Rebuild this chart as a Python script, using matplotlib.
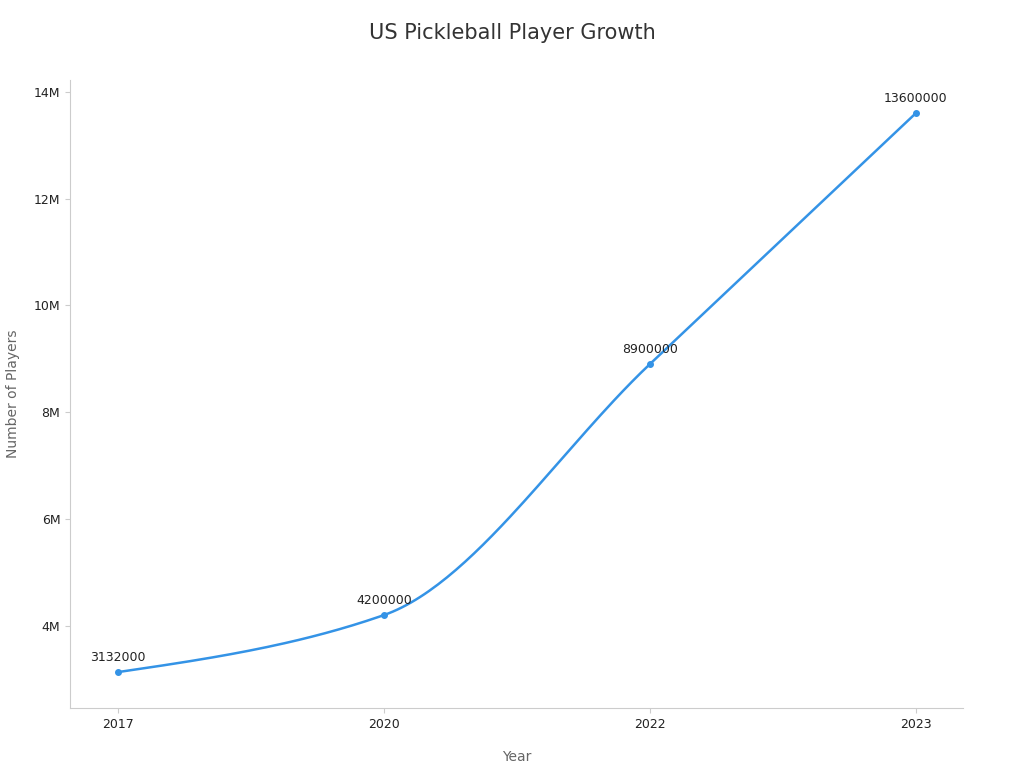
import numpy as np
import matplotlib
matplotlib.use("Agg")
import matplotlib.pyplot as plt
from matplotlib.ticker import FuncFormatter

years = ["2017", "2020", "2022", "2023"]
players = [3132000, 4200000, 8900000, 13600000]

def monotone(x, y, n=60):
    x = np.asarray(x, float); y = np.asarray(y, float)
    h = np.diff(x); d = np.diff(y) / h
    m = np.zeros_like(y)
    m[0] = d[0]; m[-1] = d[-1]
    for i in range(1, len(y) - 1):
        if d[i-1] * d[i] <= 0:
            m[i] = 0
        else:
            m[i] = 3 * (h[i-1] + h[i]) / ((2*h[i] + h[i-1]) / d[i-1] + (h[i] + 2*h[i-1]) / d[i])
    # d3 style endpoints
    m[0] = (3 * d[0] - m[1]) / 2
    m[-1] = (3 * d[-1] - m[-2]) / 2
    xs, ys = [], []
    for i in range(len(h)):
        t = np.linspace(0, 1, n)
        h00 = 2*t**3 - 3*t**2 + 1; h10 = t**3 - 2*t**2 + t
        h01 = -2*t**3 + 3*t**2; h11 = t**3 - t**2
        xs.append(x[i] + t*h[i])
        ys.append(h00*y[i] + h10*h[i]*m[i] + h01*y[i+1] + h11*h[i]*m[i+1])
    return np.concatenate(xs), np.concatenate(ys)

fig = plt.figure(figsize=(10.24, 7.68), dpi=100)
ax = fig.add_axes([70/1024, 60/768, 893/1024, 628/768])
xi = np.arange(len(years))
sx, sy = monotone(xi, players)
color = "#3493e6"
ax.plot(sx, sy, color=color, lw=1.8)
ax.plot(xi, players, "o", color=color, ms=4)
for x, v in zip(xi, players):
    ax.annotate(str(v), (x, v), xytext=(0, 6), textcoords="offset points",
                ha="center", va="bottom", fontsize=9, color="#222222")

ax.set_xlim(-0.18, 3.177)
ax.set_ylim(2.46e6, 14.22e6)
ax.set_xticks(xi)
ax.set_xticklabels(years)
ax.set_yticks([4e6, 6e6, 8e6, 10e6, 12e6, 14e6])
ax.yaxis.set_major_formatter(FuncFormatter(lambda v, p: f"{int(v/1e6)}M"))
for s in ["top", "right"]:
    ax.spines[s].set_visible(False)
for s in ["left", "bottom"]:
    ax.spines[s].set_color("#cccccc")
ax.tick_params(colors="#cccccc", labelcolor="#222222", labelsize=9)
ax.set_xlabel("Year", fontsize=10, color="#666666", labelpad=14)
ax.set_ylabel("Number of Players", fontsize=10, color="#666666", labelpad=10)
fig.text(0.5, 1 - 33/768, "US Pickleball Player Growth", ha="center", va="center",
         fontsize=15, color="#333333")
fig.savefig("out.png", dpi=100)
